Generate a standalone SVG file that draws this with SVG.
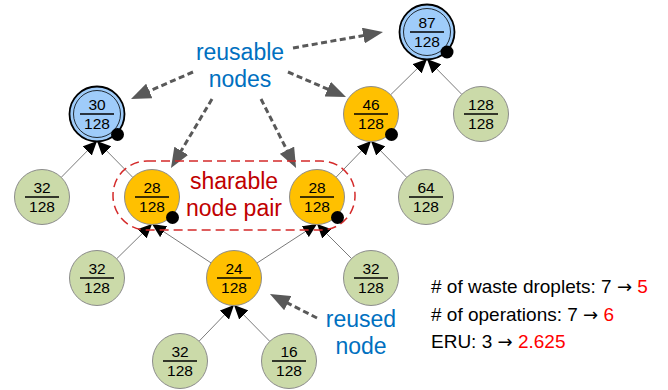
<svg xmlns="http://www.w3.org/2000/svg" width="668" height="390" viewBox="0 0 668 390">
<style>
.g{fill:#cbdaa9;stroke:#8c8c8c;stroke-width:1}
.o{fill:#ffc000;stroke:#8c8c8c;stroke-width:1}
.b{fill:#9fccfa;stroke:#000;stroke-width:1.8}
.bi{fill:none;stroke:#000;stroke-width:0.8}
.dot{fill:#000}
.fl{stroke:#000;stroke-width:1.6}
.n{font-family:"Liberation Sans",Arial,sans-serif;font-size:15.5px;fill:#000;text-anchor:middle}
.e{stroke:#7a7a7a;stroke-width:1;fill:none;marker-end:url(#ah)}
.d{stroke:#595959;stroke-width:3;stroke-dasharray:6 3.5;fill:none;marker-end:url(#dh)}
.lb{font-family:"Liberation Sans",Arial,sans-serif;font-size:23px;fill:#0070c0;text-anchor:middle}
.lr{font-family:"Liberation Sans",Arial,sans-serif;font-size:23px;fill:#c00000;text-anchor:middle}
.st{font-family:"Liberation Sans",Arial,sans-serif;font-size:19px;fill:#000}
.ar{font-family:"DejaVu Sans",sans-serif;font-size:18px}
.red{fill:#ff0000}
</style>
<defs>
<marker id="ah" markerUnits="userSpaceOnUse" markerWidth="15" markerHeight="13" refX="14" refY="6.5" orient="auto"><path d="M0,0 L14,6.5 L0,13 z" fill="#000"/></marker>
<marker id="dh" markerUnits="userSpaceOnUse" markerWidth="20" markerHeight="16" refX="2" refY="8" orient="auto"><path d="M0,0 L20,8 L0,16 z" fill="#595959"/></marker>
</defs>
<g id="connectors">
<line class="e" x1="60.9" y1="177.7" x2="97" y2="141"/>
<line class="e" x1="133.1" y1="177.7" x2="97" y2="141"/>
<line class="e" x1="335.7" y1="177.6" x2="371" y2="141"/>
<line class="e" x1="407.1" y1="177.7" x2="371" y2="141"/>
<line class="e" x1="390.3" y1="95.1" x2="427" y2="59"/>
<line class="e" x1="462.1" y1="94.7" x2="427" y2="59"/>
<line class="e" x1="116.3" y1="259.1" x2="152" y2="224"/>
<line class="e" x1="211.5" y1="263.2" x2="152" y2="224"/>
<line class="e" x1="256.6" y1="263.3" x2="317" y2="224"/>
<line class="e" x1="351.9" y1="258.9" x2="317" y2="224"/>
<line class="e" x1="198.7" y1="341.6" x2="234" y2="305"/>
<line class="e" x1="270.1" y1="341.7" x2="234" y2="305"/>
</g>
<g id="pointers">
<line class="d" x1="293" y1="48" x2="365.3" y2="35.2"/>
<line class="d" x1="193" y1="72" x2="147.5" y2="91.8"/>
<line class="d" x1="212" y1="99" x2="180.2" y2="152.5"/>
<line class="d" x1="261" y1="99" x2="287.9" y2="152"/>
<line class="d" x1="288" y1="72" x2="329.5" y2="89.9"/>
<line class="d" x1="317" y1="318" x2="286" y2="302.2"/>
</g>
<g id="pair-box"><rect x="113" y="161" width="242" height="69" rx="34" ry="34" fill="none" stroke="#d42a2a" stroke-width="1.5" stroke-dasharray="9 5"/></g>
<g id="n87"><circle class="b" cx="427" cy="32" r="27.5"/><circle class="bi" cx="427" cy="32" r="23.5"/><line class="fl" x1="410" y1="32" x2="444" y2="32"/><text class="n" x="427" y="28">87</text><text class="n" x="427" y="46.5">128</text><circle class="dot" cx="447" cy="52" r="6.5"/></g>
<g id="n30"><circle class="b" cx="97" cy="114" r="27.5"/><circle class="bi" cx="97" cy="114" r="23.5"/><line class="fl" x1="80" y1="114" x2="114" y2="114"/><text class="n" x="97" y="110">30</text><text class="n" x="97" y="128.5">128</text><circle class="dot" cx="117.5" cy="134.5" r="6.5"/></g>
<g id="n46"><circle class="o" cx="371" cy="114" r="27.5"/><line class="fl" x1="354" y1="114" x2="388" y2="114"/><text class="n" x="371" y="110">46</text><text class="n" x="371" y="128.5">128</text><circle class="dot" cx="391.5" cy="134.5" r="6.5"/></g>
<g id="n128"><circle class="g" cx="481" cy="114" r="27.5"/><line class="fl" x1="464" y1="114" x2="498" y2="114"/><text class="n" x="481" y="110">128</text><text class="n" x="481" y="128.5">128</text></g>
<g id="n32a"><circle class="g" cx="42" cy="197" r="27.5"/><line class="fl" x1="25" y1="197" x2="59" y2="197"/><text class="n" x="42" y="193">32</text><text class="n" x="42" y="211.5">128</text></g>
<g id="n28L"><circle class="o" cx="152" cy="197" r="27.5"/><line class="fl" x1="135" y1="197" x2="169" y2="197"/><text class="n" x="152" y="193">28</text><text class="n" x="152" y="211.5">128</text><circle class="dot" cx="172.5" cy="217.5" r="6.5"/></g>
<g id="n28R"><circle class="o" cx="317" cy="197" r="27.5"/><line class="fl" x1="300" y1="197" x2="334" y2="197"/><text class="n" x="317" y="193">28</text><text class="n" x="317" y="211.5">128</text><circle class="dot" cx="337.5" cy="217.5" r="6.5"/></g>
<g id="n64"><circle class="g" cx="426" cy="197" r="27.5"/><line class="fl" x1="409" y1="197" x2="443" y2="197"/><text class="n" x="426" y="193">64</text><text class="n" x="426" y="211.5">128</text></g>
<g id="n32b"><circle class="g" cx="97" cy="278" r="27.5"/><line class="fl" x1="80" y1="278" x2="114" y2="278"/><text class="n" x="97" y="274">32</text><text class="n" x="97" y="292.5">128</text></g>
<g id="n24"><circle class="o" cx="234" cy="278" r="27.5"/><line class="fl" x1="217" y1="278" x2="251" y2="278"/><text class="n" x="234" y="274">24</text><text class="n" x="234" y="292.5">128</text></g>
<g id="n32c"><circle class="g" cx="371" cy="278" r="27.5"/><line class="fl" x1="354" y1="278" x2="388" y2="278"/><text class="n" x="371" y="274">32</text><text class="n" x="371" y="292.5">128</text></g>
<g id="n32d"><circle class="g" cx="180" cy="361" r="27.5"/><line class="fl" x1="163" y1="361" x2="197" y2="361"/><text class="n" x="180" y="357">32</text><text class="n" x="180" y="375.5">128</text></g>
<g id="n16"><circle class="g" cx="289" cy="361" r="27.5"/><line class="fl" x1="272" y1="361" x2="306" y2="361"/><text class="n" x="289" y="357">16</text><text class="n" x="289" y="375.5">128</text></g>
<g id="labels">
<text class="lb" x="240" y="60">reusable</text>
<text class="lb" x="240" y="87">nodes</text>
<text class="lr" x="234" y="189">sharable</text>
<text class="lr" x="234" y="216">node pair</text>
<text class="lb" x="361" y="327">reused</text>
<text class="lb" x="361" y="354">node</text>
<text class="st" x="431" y="293"># of waste droplets: 7 <tspan class="ar">→</tspan> <tspan class="red">5</tspan></text>
<text class="st" x="431" y="320.5"># of operations: 7 <tspan class="ar">→</tspan> <tspan class="red">6</tspan></text>
<text class="st" x="431" y="348">ERU: 3 <tspan class="ar">→</tspan> <tspan class="red">2.625</tspan></text>
</g>
</svg>
